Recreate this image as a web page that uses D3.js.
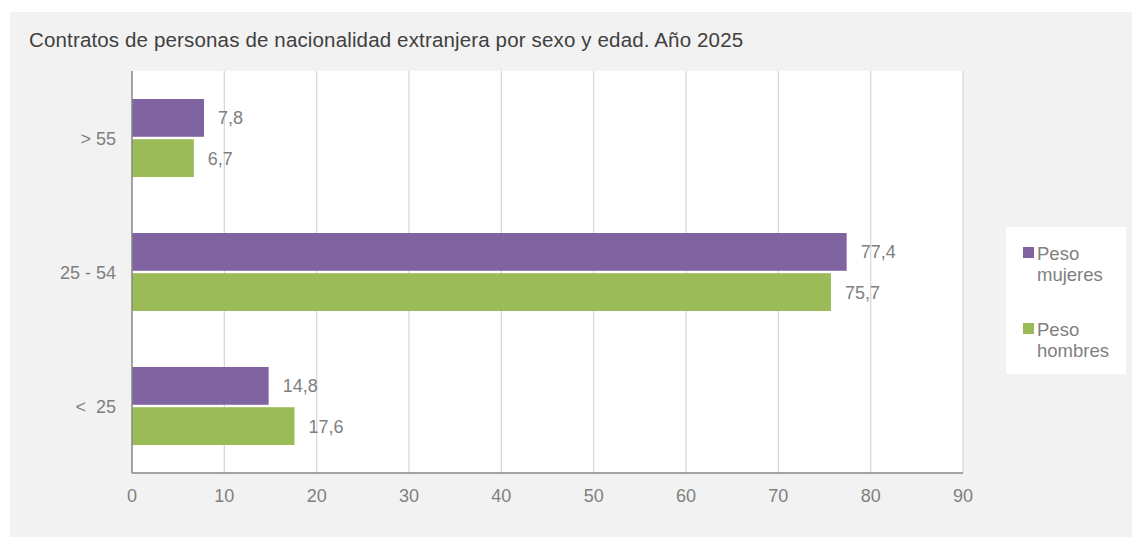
<!DOCTYPE html>
<html>
<head>
<meta charset="utf-8">
<script src="https://cdn.jsdelivr.net/npm/d3@7"></script>
<style>
  body { margin: 0; background: #fff; }
  text { font-family: "Liberation Sans", Arial, sans-serif; }
</style>
</head>
<body>
<div id="chart"></div>
<script>
// Data
const categories = ["> 55", "25 - 54", "<  25"];
const mujeres = [7.8, 77.4, 14.8];
const hombres = [6.7, 75.7, 17.6];
const seriesNames = ["Peso mujeres", "Peso hombres"];
const xTicks = [0, 10, 20, 30, 40, 50, 60, 70, 80, 90];

const width = 1132, height = 537;
const colors = ["#8064A2", "#9BBB59"];
const plot = {left: 132, right: 963, top: 71, bottom: 473};

const svg = d3.select("#chart").append("svg")
    .attr("width", width)
    .attr("height", height);

// Grey chart panel
svg.append("rect")
    .attr("x", 10).attr("y", 12)
    .attr("width", width - 10).attr("height", height - 12)
    .attr("fill", "#f2f2f2");

svg.append("text")
    .attr("x", 29).attr("y", 47)
    .attr("font-size", 20.5)
    .attr("letter-spacing", 0.15)
    .attr("fill", "#404040")
    .text("Contratos de personas de nacionalidad extranjera por sexo y edad. Año 2025");

// White plot area
svg.append("rect")
    .attr("x", plot.left).attr("y", plot.top)
    .attr("width", plot.right - plot.left).attr("height", plot.bottom - plot.top)
    .attr("fill", "#fff");

let x = d3.scaleLinear().domain([0, 90]).range([plot.left, plot.right]);
let y = d3.scaleBand().domain(categories).range([plot.top, plot.bottom]);
let inner = d3.scaleBand().domain([0, 1]).range([y.bandwidth() / 2 - 39, y.bandwidth() / 2 + 39]).paddingInner(0.06);

// Vertical gridlines
svg.append("g")
    .selectAll("line")
    .data(xTicks.filter(d => d > 0))
    .enter()
    .append("line")
    .attr("x1", d => x(d)).attr("x2", d => x(d))
    .attr("y1", plot.top).attr("y2", plot.bottom)
    .attr("stroke", "#d9d9d9")
    .attr("stroke-width", 1.3);

// Bars
const rows = categories.map((c, i) => ({cat: c, vals: [mujeres[i], hombres[i]]}));
let groups = svg.selectAll("g.row")
    .data(rows)
    .enter()
    .append("g")
    .attr("class", "row")
    .attr("transform", d => "translate(0," + y(d.cat) + ")");

groups.selectAll("rect")
    .data(d => d.vals.map((v, k) => ({v: v, k: k})))
    .enter()
    .append("rect")
    .attr("x", x(0))
    .attr("y", d => inner(d.k))
    .attr("width", d => x(d.v) - x(0))
    .attr("height", inner.bandwidth())
    .attr("fill", d => colors[d.k]);

groups.selectAll("text.lbl")
    .data(d => d.vals.map((v, k) => ({v: v, k: k})))
    .enter()
    .append("text")
    .attr("class", "lbl")
    .attr("x", d => x(d.v) + 14)
    .attr("y", d => inner(d.k) + inner.bandwidth() / 2 + 6.5)
    .attr("font-size", 18)
    .attr("fill", "#7f7f7f")
    .text(d => d3.format(".1f")(d.v).replace(".", ","));

// Category labels
svg.append("g")
    .selectAll("text")
    .data(categories)
    .enter()
    .append("text")
    .attr("x", 116)
    .attr("y", d => y(d) + y.bandwidth() / 2 + 6.5)
    .attr("text-anchor", "end")
    .attr("font-size", 18)
    .attr("fill", "#7f7f7f")
    .style("white-space", "pre")
    .text(d => d);

// X tick labels
svg.append("g")
    .selectAll("text")
    .data(xTicks)
    .enter()
    .append("text")
    .attr("x", d => x(d))
    .attr("y", 502)
    .attr("text-anchor", "middle")
    .attr("font-size", 18)
    .attr("fill", "#7f7f7f")
    .text(d => d);

// Axis lines
svg.append("line")
    .attr("x1", plot.left).attr("x2", plot.left)
    .attr("y1", plot.top).attr("y2", plot.bottom)
    .attr("stroke", "#868686").attr("stroke-width", 1.5);
svg.append("line")
    .attr("x1", plot.left).attr("x2", plot.right)
    .attr("y1", plot.bottom).attr("y2", plot.bottom)
    .attr("stroke", "#868686").attr("stroke-width", 1.5);

// Legend
let legend = svg.append("g");
legend.append("rect")
    .attr("x", 1006).attr("y", 227)
    .attr("width", 120).attr("height", 147)
    .attr("fill", "#fff");

let items = legend.selectAll("g")
    .data(seriesNames)
    .enter()
    .append("g")
    .attr("transform", (d, i) => "translate(1023," + (247 + i * 76) + ")");

items.append("rect")
    .attr("width", 11).attr("height", 11)
    .attr("fill", (d, i) => colors[i]);

items.append("text")
    .attr("x", 14)
    .attr("y", 12.5)
    .attr("font-size", 18.5)
    .attr("fill", "#7f7f7f")
    .selectAll("tspan")
    .data(d => d.split(" "))
    .enter()
    .append("tspan")
    .attr("x", 14)
    .attr("dy", (d, i) => i === 0 ? 0 : 21)
    .text(d => d);
</script>
</body>
</html>
